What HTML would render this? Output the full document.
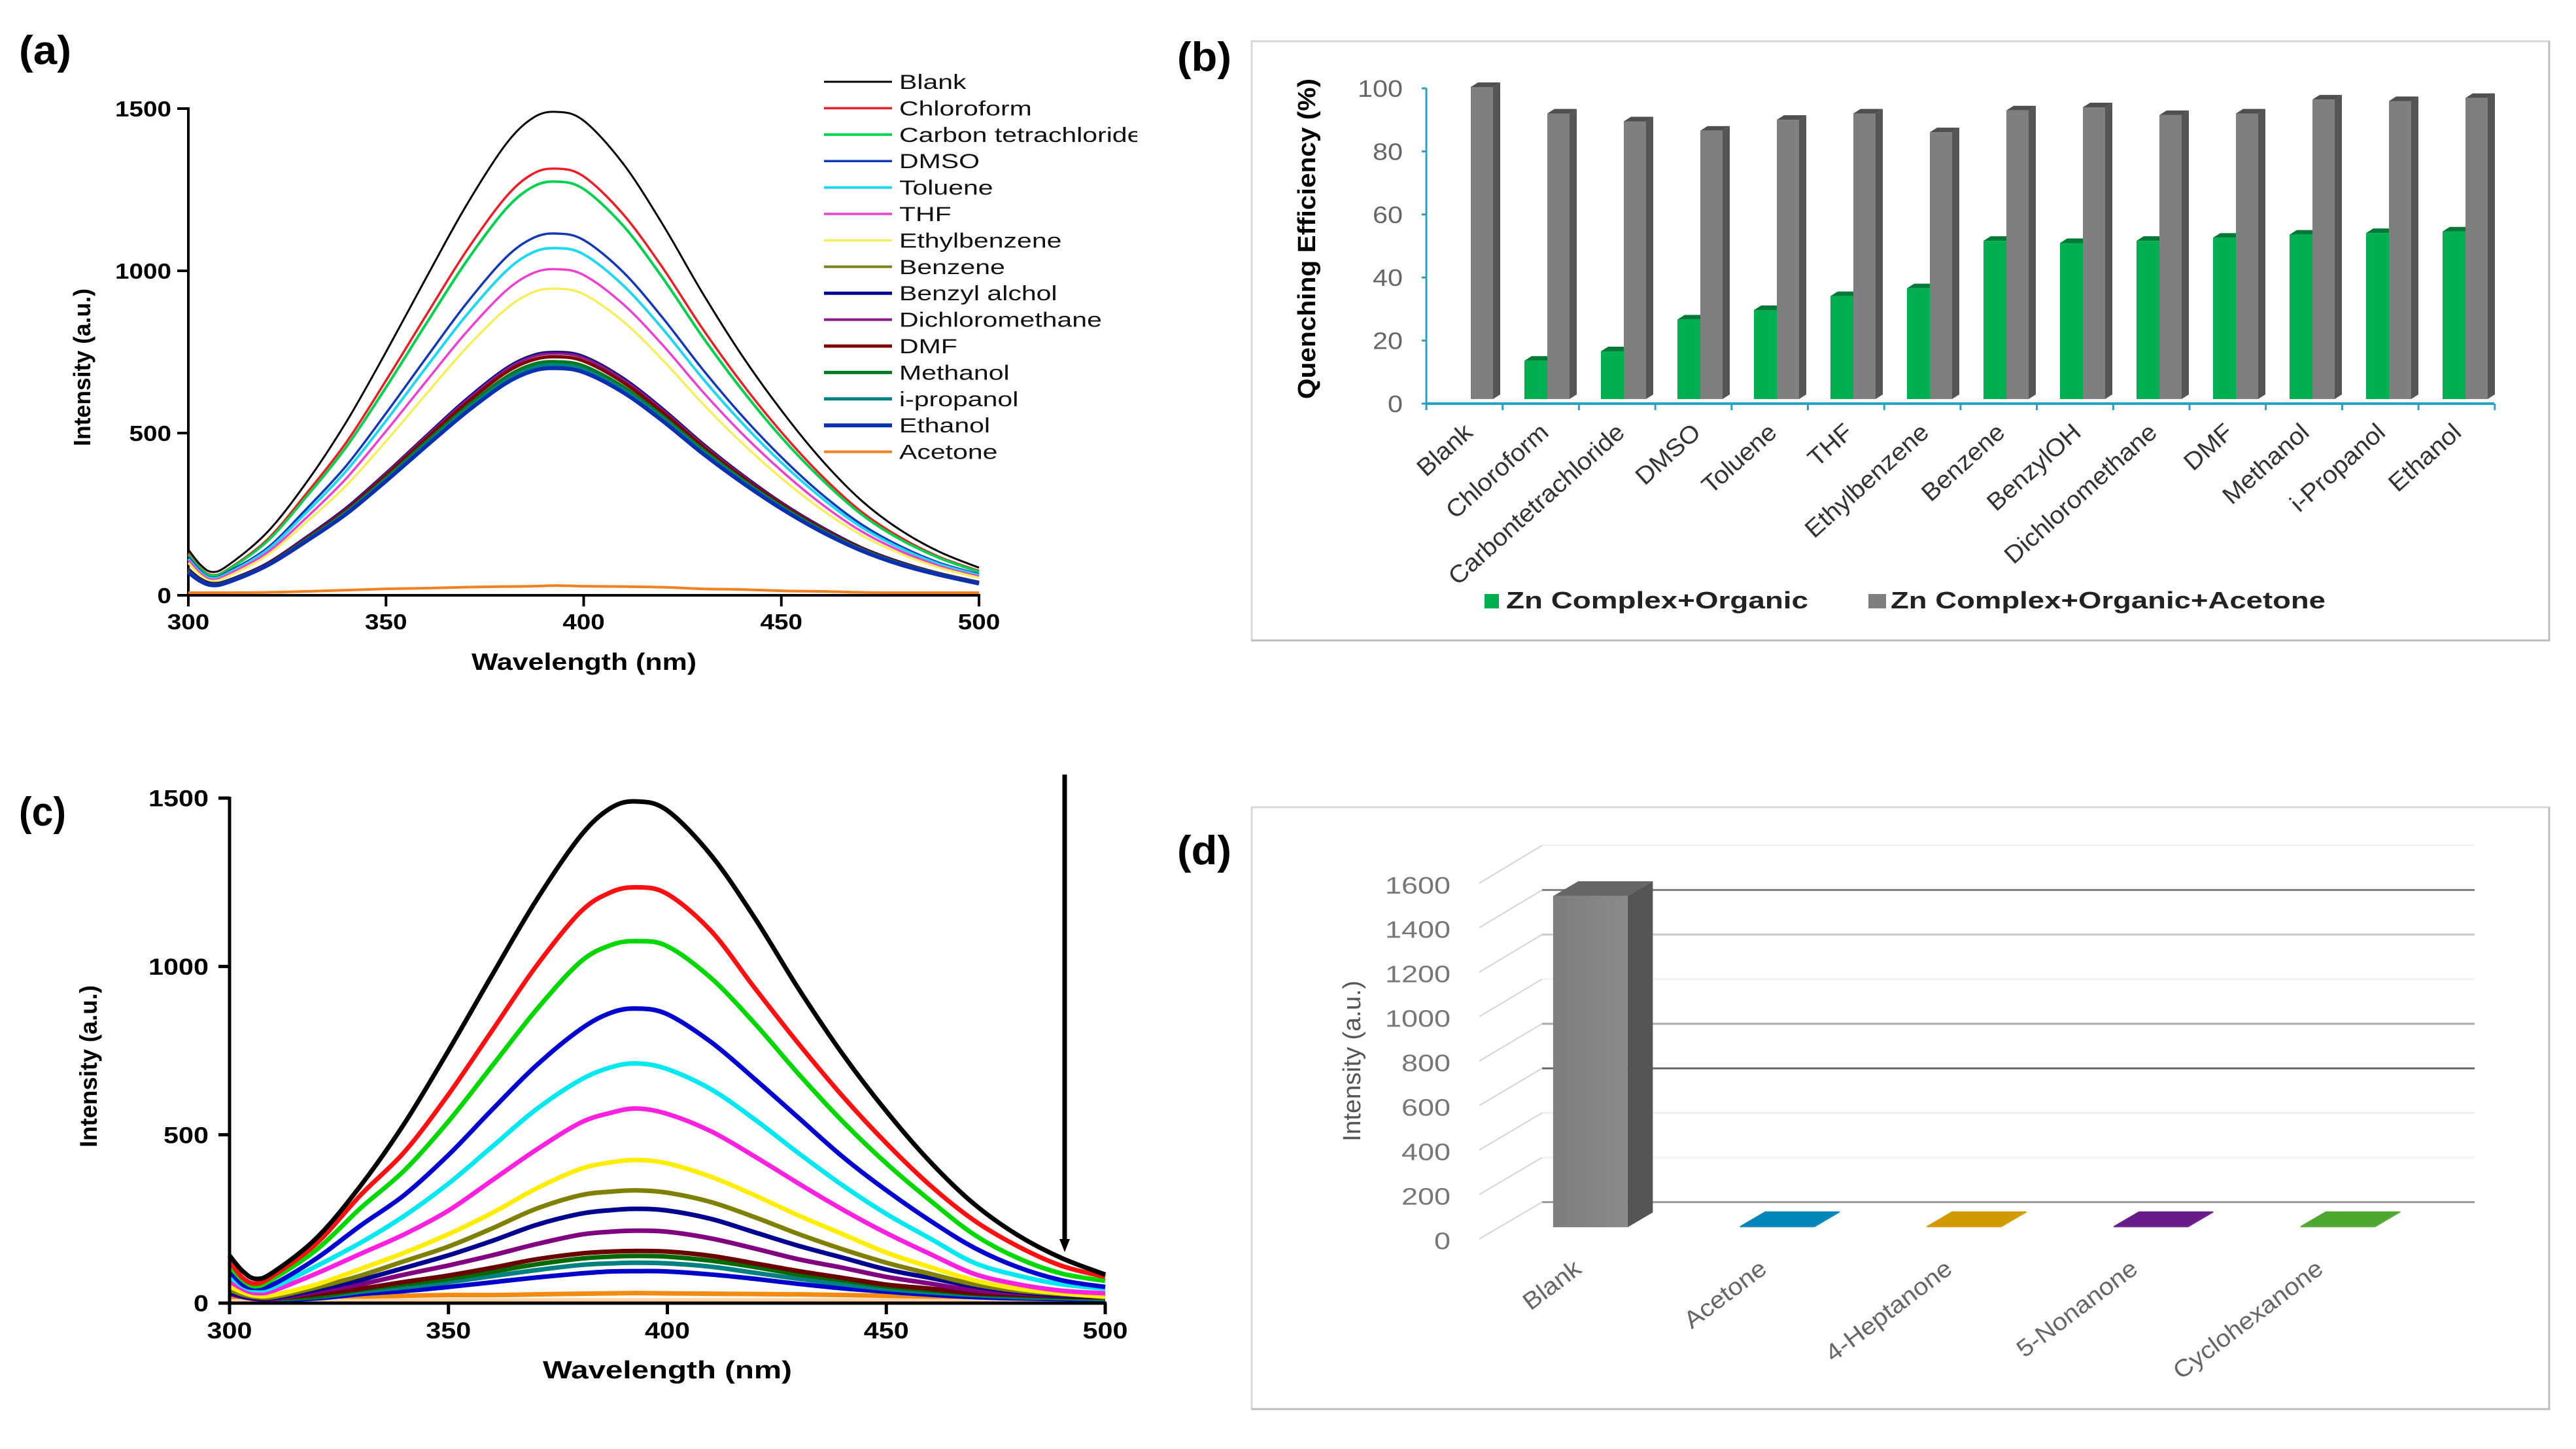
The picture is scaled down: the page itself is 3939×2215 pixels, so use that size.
<!DOCTYPE html>
<html>
<head>
<meta charset="utf-8">
<title>Fluorescence quenching figure</title>
<style>
html,body{margin:0;padding:0;background:#fff;width:3939px;height:2215px;overflow:hidden}
svg{display:block}
text{font-family:"Liberation Sans",sans-serif}
</style>
</head>
<body>
<svg id="fig" xmlns="http://www.w3.org/2000/svg" width="3939" height="2215" viewBox="0 0 3939 2215">
  <defs>
    <clipPath id="legend-clip"><rect x="1250" y="90" width="489" height="640"/></clipPath>
    <linearGradient id="blank-front" x1="0" x2="1" y1="0" y2="0"><stop offset="0" stop-color="#7d7d7d"/><stop offset="1" stop-color="#8a8a8a"/></linearGradient>
  </defs>
  <rect width="3939" height="2215" fill="#fff"/>
  <g id="panel-a"></g>
  <g id="panel-b"></g>
  <g id="panel-c"></g>
  <g id="panel-d"></g>
</svg>
<script>
// ---------- shared data ----------
const wavelengths = [300,303,306,310,320,330,340,350,360,370,380,387,393,400,410,420,430,440,450,460,470,480,490,500];
const xTicks = [300,350,400,450,500];
const yTicksSpectra = [0,500,1000,1500];

// ---------- panel (a) ----------
const aNames = ["Blank","Chloroform","Carbon tetrachloride","DMSO","Toluene","THF","Ethylbenzene","Benzene","Benzyl alchol","Dichloromethane","DMF","Methanol","i-propanol","Ethanol","Acetone"];
const aBlank = [141,95,72,92,195,350,535,750,975,1195,1385,1470,1490,1463,1330,1143,933,740,570,420,295,202,134,85];
const aChloroform = [130,85,62,80,172,316,472,662,860,1055,1223,1298,1315,1291,1174,1009,823,654,503,371,260,179,118,75];
const aCarbonTet = [125,82,60,78,167,306,458,641,834,1023,1186,1258,1275,1252,1139,978,798,634,487,360,252,173,115,72];
const aDmso = [118,76,54,72,146,268,400,561,729,894,1037,1100,1115,1095,996,855,698,554,426,314,221,152,100,65];
const aToluene = [112,72,52,68,140,257,384,538,700,858,995,1056,1070,1051,955,821,670,532,409,302,212,146,96,62];
const aThf = [108,68,48,64,132,241,361,506,657,806,935,992,1005,987,897,771,629,499,384,283,199,137,90,58];
const aEthylbenzene = [100,62,44,58,124,227,339,475,618,758,879,933,945,928,844,725,592,470,361,266,187,129,85,54];
const aBenzene = [82,52,38,46,98,180,269,377,490,601,697,740,750,737,670,575,470,373,286,212,148,102,68,40];
const aBenzyl = [80,50,36,45,98,180,269,376,489,600,696,738,748,735,668,574,468,372,285,211,148,102,67,40];
const aDcm = [78,48,35,44,97,179,267,375,487,597,693,735,745,732,665,571,466,370,284,210,147,101,67,39];
const aDmf = [76,47,34,43,96,176,264,370,481,589,684,725,735,722,656,564,460,365,281,207,146,100,66,39];
const aMethanol = [74,46,33,42,94,173,258,362,471,577,670,711,720,707,643,552,451,358,275,203,143,98,65,38];
const aPropanol = [72,45,32,41,93,170,255,357,464,569,660,701,710,697,634,545,444,353,271,200,141,97,64,37];
const aEthanol = [70,44,31,40,92,168,251,352,458,561,651,691,700,687,625,537,438,348,267,197,139,95,63,36];
const aAcetone = [8,8,8,8,9,12,16,20,22,25,27,28,30,28,27,25,20,18,14,12,9,8,8,8];
const aSeries = [aBlank,aChloroform,aCarbonTet,aDmso,aToluene,aThf,aEthylbenzene,aBenzene,aBenzyl,aDcm,aDmf,aMethanol,aPropanol,aEthanol,aAcetone];

// ---------- panel (b) ----------
const bCategories = ["Blank","Chloroform","Carbontetrachloride","DMSO","Toluene","THF","Ethylbenzene","Benzene","BenzylOH","Dichloromethane","DMF","Methanol","i-Propanol","Ethanol"];
const bOrganic = [0,12.3,15.3,25.5,28.5,33,35.5,50.7,50,50.7,51.7,52.7,53.2,53.7];
const bAcetone = [100,91.5,89,86,89.5,91.5,85.5,92.5,93.5,91,91.5,96,95.5,96.5];
const bTicks = [0,20,40,60,80,100];

// ---------- panel (c) ----------
const cBlank = [141,95,72,92,195,350,535,750,975,1195,1385,1470,1490,1463,1330,1143,933,740,570,420,295,202,134,85];
const cRed = [125,75,58,82,179,322,450,620,810,1000,1160,1220,1235,1215,1105,935,770,615,475,350,246,169,111,78];
const cGreen = [110,68,50,72,160,283,395,540,705,870,1012,1063,1075,1060,965,830,680,540,415,305,204,134,88,66];
const cBlue = [95,55,45,56,134,231,322,440,575,705,812,862,875,858,775,665,550,435,335,245,165,107,68,48];
const cCyan = [80,50,38,47,111,180,260,355,465,575,662,700,712,695,635,545,445,350,265,192,120,82,56,43];
const cMagenta = [65,42,30,37,89,147,205,275,365,455,535,565,578,562,510,435,355,278,208,146,87,56,37,29];
const cYellow = [50,32,22,24,56,102,150,205,268,340,398,418,425,415,375,320,260,205,150,107,68,43,29,19];
const cOlive = [40,25,18,18,47,82,125,168,222,280,320,331,335,328,300,255,205,160,120,87,56,37,27,19];
const cNavy = [32,20,15,15,40,69,105,142,185,232,265,276,280,275,250,210,170,135,100,75,50,33,23,19];
const cPurple = [28,18,12,12,34,56,85,112,142,175,203,212,215,212,192,162,130,105,78,58,38,29,23,19];
const cDmf = [140,60,22,15,27,43,63,82,105,130,147,153,155,153,140,118,95,75,55,43,30,25,20,18];
const cMethanol = [120,55,20,14,20,40,56,72,93,115,132,138,140,138,126,107,85,68,50,38,28,22,18,15];
const cPropanol = [100,48,18,12,18,34,47,62,80,98,113,118,120,118,108,90,72,56,42,32,24,18,15,12];
const cEthanol = [85,40,15,10,14,27,36,48,62,76,88,94,95,94,85,72,57,44,34,25,18,14,12,10];
const cPale = [8,8,8,8,8,8,8,8,8,8,8,8,8,8,8,8,8,8,8,8,8,8,8,8];
const cAcetone = [19,19,19,19,19,20,22,24,24,26,28,29,30,29,28,27,26,24,22,20,18,17,15,14];
const cBaseline = [3,3,3,3,3,null,null,null,null,null,null,null,null,null,null,null,null,null,null,null,null,3,3,3];
const cSeries = [cBaseline,cPale,cAcetone,cEthanol,cPropanol,cMethanol,cDmf,cPurple,cNavy,cOlive,cYellow,cMagenta,cCyan,cBlue,cGreen,cRed,cBlank];
const cSeriesNames = ["baseline","pale-trace","acetone","ethanol","propanol","methanol","dmf","dichloromethane","benzyl-alcohol","benzene","ethylbenzene","thf","toluene","dmso","carbon-tetrachloride","chloroform","blank"];

// ---------- panel (d) ----------
const dCategories = ["Blank","Acetone","4-Heptanone","5-Nonanone","Cyclohexanone"];
const dValues = [1490,5,5,5,5];
const dTicks = [0,200,400,600,800,1000,1200,1400,1600];

// ---------- styles ----------
const aColors = ["#000","#ee1c25","#00d24f","#1238b8","#1fd8f0","#ee3fd0","#f6ee5a","#808020","#000090","#8a1a8a","#800000","#007a20","#008080","#0a2fb0","#f08020"];
const aWidths = [3,3.5,4,3.5,4,3.5,3.5,4,5,4,5,5,5,6,4];
const cColors = ["#000","#ffd6a8","#f58a10","#0000cc","#008080","#006a00","#6a0000","#800080","#000090","#808000","#ffee00","#ff20e0","#00e8f0","#0000d0","#00d800","#ff1010","#000"];
const dColors = ["url(#blank-front)","#0085b8","#d09a00","#6a1b8a","#4ea72e"];
const dGridColors = ["#999","#f2f2f2","#eee","#666","#aaa","#f2f2f2","#ccc","#808080","#f2f2f2"];
const NS = "http://www.w3.org/2000/svg";

function mk(parent, tag, attrs, name, interactable) {
  const el = document.createElementNS(NS, tag);
  for (const k in attrs) el.setAttribute(k, attrs[k]);
  
  
  parent.appendChild(el);
  return el;
}
function txt(parent, name, str, x, y, o) {
  o = o || {};
  const a = {
    'font-size': o.size || 34,
    'font-weight': o.weight || 'normal',
    'fill': o.fill || '#000',
    'text-anchor': o.anchor || 'start'
  };
  if (o.italic) a['font-style'] = 'italic';
  if (o.len) { a.textLength = o.len; a.lengthAdjust = 'spacingAndGlyphs'; }
  a.transform = 'translate(' + x + ' ' + y + ') rotate(' + (o.rot || 0) + ') scale(1 ' + (o.sy || 1) + ')';
  const el = mk(parent, 'text', a, name, false);
  el.textContent = str;
  return el;
}
function smooth(pts) {
  let d = 'M' + pts[0][0].toFixed(1) + ' ' + pts[0][1].toFixed(1);
  for (let i = 0; i < pts.length - 1; i++) {
    const p0 = pts[i - 1] || pts[i], p1 = pts[i], p2 = pts[i + 1], p3 = pts[i + 2] || p2;
    const c1x = p1[0] + (p2[0] - p0[0]) / 6, c1y = p1[1] + (p2[1] - p0[1]) / 6;
    const c2x = p2[0] - (p3[0] - p1[0]) / 6, c2y = p2[1] - (p3[1] - p1[1]) / 6;
    d += 'C' + c1x.toFixed(1) + ' ' + c1y.toFixed(1) + ' ' + c2x.toFixed(1) + ' ' + c2y.toFixed(1) + ' ' + p2[0].toFixed(1) + ' ' + p2[1].toFixed(1);
  }
  return d;
}
function curve(g, name, values, sx, sy, color, width) {
  let seg = [];
  const flush = () => {
    if (seg.length > 1) mk(g, 'path', {d: smooth(seg), fill: 'none', stroke: color, 'stroke-width': width, 'stroke-linejoin': 'round'}, name, false);
    seg = [];
  };
  values.forEach((v, i) => {
    if (v === null) flush(); else seg.push([sx(wavelengths[i]), sy(v)]);
  });
  flush();
}
function spectraAxes(g, sx, sy, o) {
  mk(g, 'line', {x1: sx(300), x2: sx(300), y1: sy(1500) - 2, y2: sy(0) + o.tick, stroke: '#000', 'stroke-width': o.lw}, 'y-axis-line', false);
  mk(g, 'line', {x1: sx(300) - o.tick, x2: sx(500) + 2, y1: sy(0), y2: sy(0), stroke: '#000', 'stroke-width': o.lw}, 'x-axis-line', false);
  yTicksSpectra.forEach(t => {
    mk(g, 'line', {x1: sx(300) - o.tick, x2: sx(300), y1: sy(t), y2: sy(t), stroke: '#000', 'stroke-width': o.lw}, 'y-tick-mark', false);
    const s = String(t);
    txt(g, 'y-tick-label', s, sx(300) - o.ylabGap, sy(t) + o.fs * 0.36, {size: o.fs, weight: 'bold', anchor: 'end', len: s.length * o.cw});
  });
  xTicks.forEach(t => {
    mk(g, 'line', {x1: sx(t), x2: sx(t), y1: sy(0), y2: sy(0) + o.tick, stroke: '#000', 'stroke-width': o.lw}, 'x-tick-mark', false);
    const s = String(t);
    txt(g, 'x-tick-label', s, sx(t), o.xlabY, {size: o.fs, weight: 'bold', anchor: 'middle', len: s.length * o.cw});
  });
}

// ---------- draw (a) ----------
(function () {
  const g = document.getElementById('panel-a');
  const sx = w => 288 + (w - 300) * (1497 - 288) / 200;
  const sy = v => 910 - v * (910 - 166) / 1500;
  txt(g, 'panel-a-label', '(a)', 29, 98, {size: 62, weight: 'bold', len: 80});
  spectraAxes(g, sx, sy, {tick: 17, lw: 4, fs: 33, cw: 21.5, ylabGap: 26, xlabY: 962});
  txt(g, 'y-axis-title', 'Intensity (a.u.)', 138, 682, {size: 36, weight: 'bold', rot: -90, len: 241});
  txt(g, 'x-axis-title', 'Wavelength (nm)', 721, 1024, {size: 36, weight: 'bold', len: 344});
  aSeries.forEach((vals, i) => curve(g, 'curve-' + aNames[i].toLowerCase().replace(/ /g, '-'), vals, sx, sy, aColors[i], aWidths[i]));
  const lg = mk(g, 'g', {'clip-path': 'url(#legend-clip)'}, 'legend', false);
  aNames.forEach((n, i) => {
    const y = 125 + i * 40.4;
    mk(lg, 'line', {x1: 1260, x2: 1364, y1: y, y2: y, stroke: aColors[i], 'stroke-width': aWidths[i]}, 'legend-line', false);
    txt(lg, 'legend-label', n, 1375, y + 11, {size: 41, sy: 0.76, fill: '#111'});
  });
})();

// ---------- draw (c) ----------
(function () {
  const g = document.getElementById('panel-c');
  const sx = w => 351 + (w - 300) * (1690 - 351) / 200;
  const sy = v => 1992 - v * (1992 - 1220) / 1500;
  txt(g, 'panel-c-label', '(c)', 29, 1262, {size: 62, weight: 'bold', len: 72});
  cSeries.forEach((vals, i) => curve(g, 'curve-' + cSeriesNames[i], vals, sx, sy, cColors[i], 7));
  spectraAxes(g, sx, sy, {tick: 17, lw: 5, fs: 35, cw: 23, ylabGap: 32, xlabY: 2046});
  txt(g, 'y-axis-title', 'Intensity (a.u.)', 148, 1754, {size: 37, weight: 'bold', rot: -90, len: 248});
  txt(g, 'x-axis-title', 'Wavelength (nm)', 830, 2107, {size: 38, weight: 'bold', len: 381});
  mk(g, 'line', {x1: 1628, x2: 1628, y1: 1184, y2: 1896, stroke: '#000', 'stroke-width': 7}, 'arrow-shaft', false);
  mk(g, 'polygon', {points: '1620,1894 1636,1894 1628,1914', fill: '#000'}, 'arrow-head', false);
})();

// ---------- draw (b) ----------
(function () {
  const g = document.getElementById('panel-b');
  mk(g, 'rect', {x: 1914, y: 63, width: 1984, height: 916, fill: '#fff', stroke: '#d8d8d8', 'stroke-width': 3}, 'chart-frame', false);
  mk(g, 'path', {d: 'M1914 979H3898V63', fill: 'none', stroke: '#bcbcbc', 'stroke-width': 3}, 'chart-frame-shadow', false);
  txt(g, 'panel-b-label', '(b)', 1800, 108, {size: 62, weight: 'bold', len: 83});
  const axisColor = '#2aa0c8';
  const ax = v => 617 - v * 4.82;
  const barY = v => 610 - v * 4.77;
  const catX = i => 2181 + i * 116.7;
  mk(g, 'line', {x1: 2181, x2: 2181, y1: ax(100), y2: ax(0), stroke: axisColor, 'stroke-width': 3}, 'y-axis-line', false);
  mk(g, 'line', {x1: 2181, x2: 3814, y1: ax(0), y2: ax(0), stroke: axisColor, 'stroke-width': 4}, 'x-axis-line', false);
  bTicks.forEach(t => {
    mk(g, 'line', {x1: 2174, x2: 2181, y1: ax(t), y2: ax(t), stroke: axisColor, 'stroke-width': 3}, 'y-tick-mark', false);
    const s = String(t);
    txt(g, 'y-tick-label', s, 2145, ax(t) + 13, {size: 36, fill: '#666', anchor: 'end', len: s.length * 23});
  });
  for (let i = 0; i <= bCategories.length; i++) {
    mk(g, 'line', {x1: catX(i), x2: catX(i), y1: ax(0), y2: ax(0) + 10, stroke: axisColor, 'stroke-width': 3}, 'x-tick-mark', false);
  }
  function bar3d(name, x, w, v, front, side, top) {
    if (v <= 0) return;
    const y = barY(v), b = barY(0), dx = 11, dy = 7;
    mk(g, 'polygon', {points: [x + w, y, x + w + dx, y - dy, x + w + dx, b - dy, x + w, b].join(' '), fill: side}, name + '-side', false);
    mk(g, 'polygon', {points: [x, y, x + dx, y - dy, x + w + dx, y - dy, x + w, y].join(' '), fill: top}, name + '-top', false);
    mk(g, 'rect', {x: x, y: y, width: w, height: b - y, fill: front}, name, false);
  }
  bCategories.forEach((c, i) => {
    bar3d('bar-organic-' + i, 2214 + i * 117, 36, bOrganic[i], '#00b050', '#008a3e', '#007a36');
    bar3d('bar-acetone-' + i, 2249 + i * 117, 34, bAcetone[i], '#7f7f7f', '#555', '#4f4f4f');
    txt(g, 'x-tick-label', c, 2254 + 116.3 * i, 664, {size: 39.5, sy: 0.95, fill: '#333', anchor: 'end', rot: -42});
  });
  txt(g, 'y-axis-title', 'Quenching Efficiency (%)', 2011, 610, {size: 38, weight: 'bold', rot: -90, len: 490});
  mk(g, 'rect', {x: 2270, y: 908, width: 22, height: 22, fill: '#00b050'}, 'legend-swatch-organic', false);
  txt(g, 'legend-label-organic', 'Zn Complex+Organic', 2303, 930, {size: 36, weight: 'bold', len: 462, fill: '#222'});
  mk(g, 'rect', {x: 2857, y: 908, width: 27, height: 22, fill: '#7f7f7f'}, 'legend-swatch-acetone', false);
  txt(g, 'legend-label-acetone', 'Zn Complex+Organic+Acetone', 2891, 930, {size: 36, weight: 'bold', len: 665, fill: '#222'});
})();

// ---------- draw (d) ----------
(function () {
  const g = document.getElementById('panel-d');
  mk(g, 'rect', {x: 1914, y: 1234, width: 1984, height: 920, fill: '#fff', stroke: '#d8d8d8', 'stroke-width': 3}, 'chart-frame', false);
  mk(g, 'path', {d: 'M1914 2154H3898V1234', fill: 'none', stroke: '#bcbcbc', 'stroke-width': 3}, 'chart-frame-shadow', false);
  txt(g, 'panel-d-label', '(d)', 1800, 1321, {size: 62, weight: 'bold', len: 83});
  const wallY = v => 1200 + (985 - v * 0.5265) * 0.6473;
  const edgeY = v => 1200 + (1072 - v * 0.525) * 0.6473;
  const labY = v => 1200 + (1076 - v * 0.525) * 0.6473 + 13;
  const frontY = v => 1876 - v * 0.3398;
  dTicks.forEach((t, i) => {
    mk(g, 'line', {x1: 2358, x2: 3784, y1: wallY(t), y2: wallY(t), stroke: dGridColors[i], 'stroke-width': 3}, 'gridline', false);
    mk(g, 'line', {x1: 2262, x2: 2358, y1: edgeY(t), y2: wallY(t), stroke: '#d4d4d4', 'stroke-width': 2}, 'grid-side-line', false);
  });
  dTicks.forEach(t => {
    const s = String(t);
    txt(g, 'y-tick-label', s, 2218, labY(t), {size: 36, fill: '#777', anchor: 'end', len: s.length * 25});
  });
  dCategories.forEach((c, i) => {
    const x = 1780 + (432 + 207.5 * i) * 1.377, w = 114, dx = 38.5, dy = 22.6;
    const y = frontY(dValues[i]), b = frontY(0);
    const isBig = i === 0;
    mk(g, 'polygon', {points: [x + w, y, x + w + dx, y - dy, x + w + dx, b - dy, x + w, b].join(' '), fill: isBig ? '#555' : dColors[i]}, 'bar-' + c.toLowerCase() + '-side', false);
    mk(g, 'polygon', {points: [x, y, x + dx, y - dy, x + w + dx, y - dy, x + w, y].join(' '), fill: isBig ? '#666' : dColors[i]}, 'bar-' + c.toLowerCase() + '-top', false);
    mk(g, 'rect', {x: x, y: y, width: w, height: b - y, fill: dColors[i]}, 'bar-' + c.toLowerCase(), false);
    txt(g, 'x-tick-label', c, 1780 + (465 + 206 * i) * 1.377, 1944, {size: 40, sy: 0.92, fill: '#666', anchor: 'end', rot: -37});
  });
  txt(g, 'y-axis-title', 'Intensity (a.u.)', 2080, 1745, {size: 38, fill: '#555', rot: -90, len: 246});
})();
</script>
</body>
</html>
